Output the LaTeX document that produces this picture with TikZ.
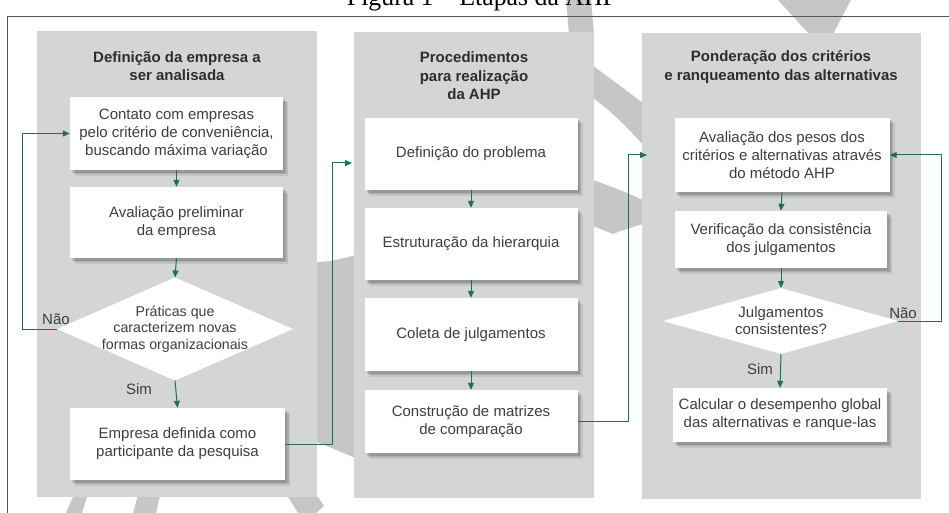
\documentclass[tikz,border=0pt]{standalone}
\usepackage{fontspec}
\setmainfont{Liberation Sans}
\newfontfamily\seriffont{Liberation Serif}
\usetikzlibrary{arrows.meta,shadows}
\definecolor{panelgray}{RGB}{212,213,215}
\definecolor{flowgreen}{RGB}{35,110,75}
\definecolor{txtgray}{RGB}{62,62,62}
\definecolor{headgray}{RGB}{45,45,45}
\definecolor{framegray}{RGB}{85,85,85}
\definecolor{wmgray}{RGB}{198,198,198}
\begin{document}
\begin{tikzpicture}[x=1pt,y=-1pt,
  panel/.style={fill=panelgray, draw=none, inner sep=0pt, anchor=north west},
  stepbox/.style={draw=none, fill=white, inner sep=0pt,
    drop shadow={shadow xshift=2pt, shadow yshift=-2.5pt, fill=black, opacity=0.12},
    drop shadow={shadow xshift=3.5pt, shadow yshift=-4pt, fill=black, opacity=0.12},
    drop shadow={shadow xshift=5pt, shadow yshift=-5.5pt, fill=black, opacity=0.08},
    font=\fontsize{15}{18}\selectfont, text=txtgray, align=center},
  headtext/.style={font=\bfseries\fontsize{15}{18.5}\selectfont, text=headgray, align=center},
  lbl/.style={font=\fontsize{15}{18}\selectfont, text=txtgray},
  dtext/.style={font=\fontsize{14.2}{16.5}\selectfont, text=txtgray, align=center},
  flow/.style={draw=flowgreen, line width=1pt, -{Triangle[length=7pt,width=6pt]}},
  ]
\useasboundingbox (0,0) rectangle (949,513);

% faint watermark pieces (behind the panels)
\fill[wmgray] (566,0) -- (591,0) -- (594,34) -- (569,34) -- cycle;
\fill[wmgray] (778,0) -- (851,0) -- (833,34) -- (809,34) -- cycle;
\fill[wmgray] (316,262) .. controls (330,262) and (345,258) .. (356,255)
  -- (356,458) .. controls (340,452) and (328,446) .. (316,442) -- cycle;
\fill[wmgray] (593,66) .. controls (610,78) and (628,92) .. (643,103)
  -- (643,145) .. controls (628,128) and (610,110) .. (593,98) -- cycle;
\fill[wmgray] (593,180) .. controls (610,186) and (628,193) .. (643,200)
  -- (643,224) .. controls (630,228) and (620,231) .. (613,234) -- (593,226) -- cycle;
\fill[wmgray] (73,497) -- (87,497) -- (82,513) -- (66,513) -- cycle;
\fill[wmgray] (138,495) -- (160,495) -- (156,513) -- (133,513) -- cycle;
\fill[wmgray] (288,497) -- (318,497) -- (324,506) -- (316,513) -- (298,513) -- cycle;

% title (cut by the page edge, as in the reference) and frame
\node[font=\seriffont\fontsize{25.8}{30}\selectfont, anchor=base] (title) at (482,6) {Figura 1 – Etapas da AHP};
\draw[framegray, line width=1pt] (7,513) -- (7,17) -- (949,17);

% panels
\node[panel, minimum width=280pt, minimum height=466pt] (P1) at (37,31) {};
\node[panel, minimum width=240pt, minimum height=466pt] (P2) at (354,32) {};
\node[panel, minimum width=279pt, minimum height=466pt] (P3) at (642,33) {};

% headings
\node[headtext] (H1) at (177,66) {Definição da empresa a\\ser analisada};
\node[headtext] (H2) at (474,76) {Procedimentos\\para realização\\da AHP};
\node[headtext] (H3) at (781,67) {Ponderação dos critérios\\e ranqueamento das alternativas};

% panel 1
\node[stepbox, minimum width=213pt, minimum height=73pt] (A) at (176.5,133.5)
  {Contato com empresas\\pelo critério de conveniência,\\buscando máxima variação};
\node[stepbox, minimum width=213pt, minimum height=71pt] (B) at (176.5,222.5)
  {Avaliação preliminar\\da empresa};
\coordinate (D1n) at (175,277.5);
\coordinate (D1s) at (175,380.5);
\coordinate (D1w) at (57,329);
\coordinate (D1e) at (293,329);
\fill[white] (D1n) -- (D1e) -- (D1s) -- (D1w) -- cycle;
\node[dtext] (T1) at (175,329) {Práticas que\\caracterizem novas\\formas organizacionais};
\node[stepbox, minimum width=215pt, minimum height=72pt] (C) at (177.5,444)
  {Empresa definida como\\participante da pesquisa};
\node[lbl] (nao1) at (56,319) {Não};
\node[lbl] (sim1) at (139,389) {Sim};

% panel 2
\node[stepbox, minimum width=213pt, minimum height=72pt] (D) at (471,154) {Definição do problema};
\node[stepbox, minimum width=213pt, minimum height=72pt] (E) at (471,244) {Estruturação da hierarquia};
\node[stepbox, minimum width=213pt, minimum height=73pt] (F) at (471,334.5) {Coleta de julgamentos};
\node[stepbox, minimum width=213pt, minimum height=63pt] (G) at (471,421.5) {Construção de matrizes\\de comparação};

% panel 3
\node[stepbox, minimum width=215pt, minimum height=74pt] (H) at (782,155)
  {Avaliação dos pesos dos\\critérios e alternativas através\\do método AHP};
\node[stepbox, minimum width=212pt, minimum height=57pt] (I) at (781,239.5)
  {Verificação da consistência\\dos julgamentos};
\coordinate (D2n) at (781,288);
\coordinate (D2s) at (781,354);
\coordinate (D2w) at (663,321);
\coordinate (D2e) at (898,321);
\fill[white] (D2n) -- (D2e) -- (D2s) -- (D2w) -- cycle;
\node[font=\fontsize{15}{17}\selectfont, text=txtgray, align=center] (T2) at (781,321) {Julgamentos\\consistentes?};
\node[stepbox, minimum width=214pt, minimum height=54pt] (J) at (780,415)
  {Calcular o desempenho global\\das alternativas e ranque-las};
\node[lbl] (nao2) at (903,313) {Não};
\node[lbl] (sim2) at (760,369) {Sim};

% connectors panel 1
\draw[flow] (A.south) -- (B.north);
\draw[flow] (B.south) -- (D1n);
\draw[flow] (D1s) -- (C.north);
\coordinate (L1) at (22,329);
\draw[flow] (D1w) -- (L1) |- (A.west);

% panel 1 -> panel 2
\coordinate (K1) at (332,163);
\coordinate (P2in) at (352,163);
\draw[flow] (C.east) -| (K1) -- (P2in);

% connectors panel 2
\draw[flow] (D.south) -- (E.north);
\draw[flow] (E.south) -- (F.north);
\draw[flow] (F.south) -- (G.north);

% panel 2 -> panel 3
\coordinate (K2) at (628,155);
\coordinate (P3in) at (647,155);
\draw[flow] (G.east) -| (K2) -- (P3in);

% connectors panel 3
\draw[flow] (H.south) -- (I.north);
\draw[flow] (I.south) -- (D2n);
\draw[flow] (D2s) -- (J.north);
\coordinate (K3) at (941,321);
\draw[flow] (D2e) -- (K3) |- (H.east);
\end{tikzpicture}
\end{document}
